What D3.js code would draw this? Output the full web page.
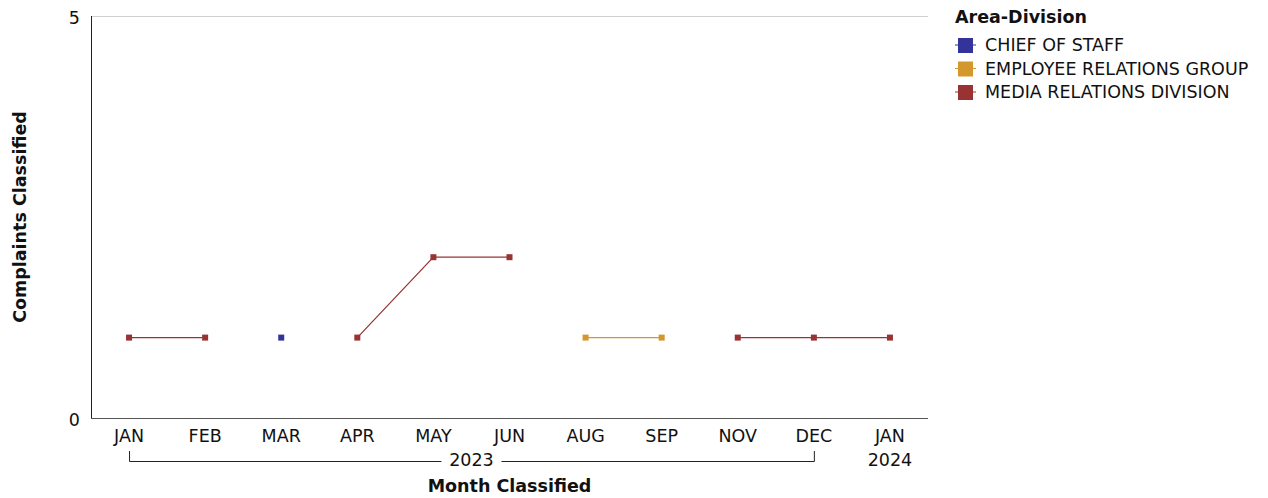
<!DOCTYPE html>
<html><head><meta charset="utf-8">
<script src="https://d3js.org/d3.v7.min.js"></script>
<style>
body{margin:0;background:#fff;}
text{font-family:"DejaVu Sans",sans-serif;fill:#111;}
</style></head>
<body><svg id="c" width="1268" height="498"></svg>
<script>
const categories = ["JAN","FEB","MAR","APR","MAY","JUN","AUG","SEP","NOV","DEC","JAN"];
const years = ["2023","2023","2023","2023","2023","2023","2023","2023","2023","2023","2024"];
const seriesNames = ["CHIEF OF STAFF","EMPLOYEE RELATIONS GROUP","MEDIA RELATIONS DIVISION"];
const seriesColors = ["#333399","#D4972B","#993333"];
const chiefOfStaff = [null,null,1,null,null,null,null,null,null,null,null];
const employeeRelations = [null,null,null,null,null,null,1,1,null,null,null];
const mediaRelations = [1,1,null,1,2,2,null,null,1,1,1];
const yTicks = [0,5];
const seriesValues = [chiefOfStaff, employeeRelations, mediaRelations];

const svg = d3.select("#c");
const m = {left:91, right:928, top:16, bottom:418};
const x = d3.scaleBand().domain(d3.range(categories.length)).range([m.left,m.right]);
const y = d3.scaleLinear().domain([0,5]).range([m.bottom,m.top]);
const fs = 17.5;

// top gridline
svg.append("line").attr("x1",m.left).attr("x2",m.right).attr("y1",y(5)+0.5).attr("y2",y(5)+0.5).attr("stroke","#d0d0d0");
// axes
const ya = svg.append("g").attr("transform",`translate(${m.left},0)`).call(d3.axisLeft(y).tickValues(yTicks).tickFormat(d3.format("d")).tickSize(0).tickPadding(11));
ya.select(".domain").attr("stroke","#222").attr("d",`M0.5,${m.top}V${m.bottom}`);
ya.selectAll("text").style("font-size",fs+"px").attr("dy","0.4em");
const xa = svg.append("g").attr("transform",`translate(0,${m.bottom})`).call(d3.axisBottom(x).tickSize(0).tickPadding(12).tickFormat(i=>categories[i]));
xa.select(".domain").attr("stroke","#555").attr("d",`M${m.left},0.5H${m.right}`);
xa.selectAll("text").style("font-size",fs+"px");
// year for last
const last = categories.length-1;
svg.append("text").attr("x",x(last)+x.bandwidth()/2).attr("y",466).attr("text-anchor","middle").style("font-size",fs+"px").text(years[last]);
// 2023 bracket
const x0 = x(0)+x.bandwidth()/2, x1 = x(9)+x.bandwidth()/2;
const xm = (x0+x1)/2;
const by = 461.5;
svg.append("path").attr("d",`M${x0+0.5},451V${by}H${xm-30}M${xm+30},${by}H${x1+0.5}V451`).attr("fill","none").attr("stroke","#222");
svg.append("text").attr("x",xm).attr("y",466).attr("text-anchor","middle").style("font-size",fs+"px").text(years[0]);

// series
seriesValues.forEach((vals,si)=>{
  const pts = vals.map((v,i)=>({i,v}));
  const line = d3.line().defined(d=>d.v!=null).x(d=>x(d.i)+x.bandwidth()/2).y(d=>y(d.v));
  svg.append("path").attr("d",line(pts)).attr("fill","none").attr("stroke",seriesColors[si]).attr("stroke-width",1.2);
  svg.selectAll(null).data(pts.filter(d=>d.v!=null)).enter().append("rect")
    .attr("x",d=>x(d.i)+x.bandwidth()/2-3).attr("y",d=>y(d.v)-3).attr("width",6).attr("height",6).attr("fill",seriesColors[si]);
});

// axis titles
svg.append("text").attr("x",(m.left+m.right)/2).attr("y",492).attr("text-anchor","middle").style("font-size",fs+"px").style("font-weight","bold").text("Month Classified");
svg.append("text").attr("transform",`translate(26,${(m.top+m.bottom)/2}) rotate(-90)`).attr("text-anchor","middle").style("font-size",fs+"px").style("font-weight","bold").text("Complaints Classified");

// legend
const lg = svg.append("g");
lg.append("text").attr("x",955).attr("y",23).style("font-size",fs+"px").style("font-weight","bold").text("Area-Division");
seriesNames.forEach((n,i)=>{
  const yy = 45 + i*23.5;
  lg.append("line").attr("x1",955).attr("x2",976).attr("y1",yy).attr("y2",yy).attr("stroke",seriesColors[i]);
  lg.append("rect").attr("x",958).attr("y",yy-7).attr("width",15).attr("height",15).attr("fill",seriesColors[i]);
  lg.append("text").attr("x",985).attr("y",yy+6).style("font-size",fs+"px").text(n);
});
</script></body></html>
